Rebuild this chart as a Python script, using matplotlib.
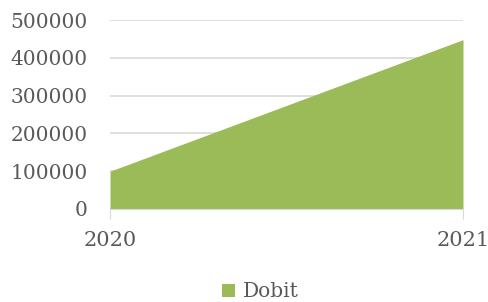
import matplotlib
matplotlib.use("Agg")
import matplotlib.pyplot as plt

years = ["2020", "2021"]
dobit = [100000, 448000]

plt.rcParams['font.family'] = ['DejaVu Serif']
txt = '#595959'
green = '#9BBB59'

fig = plt.figure(figsize=(4.89, 3.02), dpi=100)
ax = fig.add_axes([110 / 489, 1 - 209 / 302, 353 / 489, 189 / 302])

x = list(range(len(years)))
ax.fill_between(x, dobit, 0, color=green, linewidth=0, label='Dobit')

ax.set_xlim(0, 1)
ax.set_ylim(0, 500000)
ax.set_yticks(range(0, 500001, 100000))
ax.set_xticks(x)
ax.set_xticklabels(years)
ax.grid(axis='y', color='#D9D9D9', linewidth=1.2)
ax.set_axisbelow(True)
for s in ['top', 'right', 'left']:
    ax.spines[s].set_visible(False)
ax.spines['bottom'].set_color('#D9D9D9')
ax.spines['bottom'].set_zorder(3)
ax.tick_params(axis='y', length=0, pad=16, labelsize=14.5, labelcolor=txt)
ax.tick_params(axis='x', length=7, color='#D9D9D9', pad=9, labelsize=15, labelcolor=txt)

fig.legend(loc='lower center', bbox_to_anchor=(0.532, -0.058), frameon=False,
           fontsize=14.5, labelcolor=txt, handlelength=0.65, handleheight=0.65, handletextpad=0.4)

fig.savefig('out.png', dpi=100)
